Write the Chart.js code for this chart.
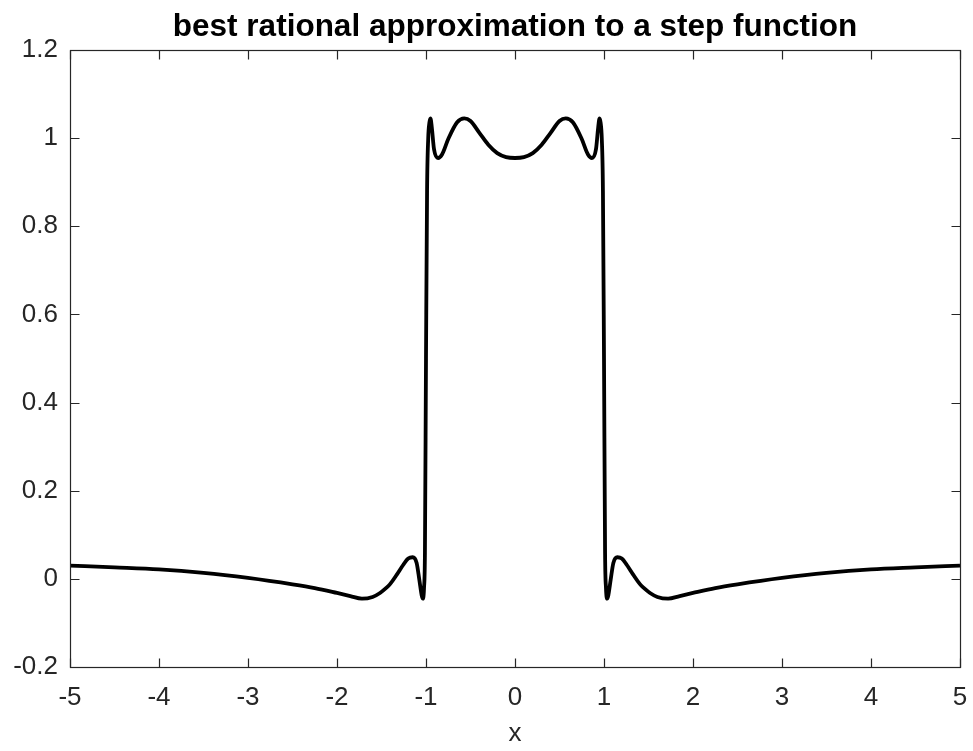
<!DOCTYPE html>
<html>
<head>
<meta charset="utf-8">
<script src="https://cdn.jsdelivr.net/npm/chart.js@4.4.1/dist/chart.umd.min.js"></script>
<style>
  html, body { margin: 0; padding: 0; background: #fff; }
  canvas { display: block; }
</style>
</head>
<body>
<canvas id="step-chart" width="973" height="751"></canvas>
<script>
// values
const xValues = [
  -5, -4.5, -4, -3.5, -3, -2.5, -2.25, -2, -1.85, -1.72, -1.6, -1.517, -1.45, -1.404, -1.33,
  -1.255, -1.2, -1.15, -1.105, -1.075, -1.048, -1.035, -1.022, -1.012, -1.0, -0.988, -0.975,
  -0.962, -0.95, -0.935, -0.91, -0.865, -0.82, -0.75, -0.65, -0.57, -0.5, -0.4, -0.3, -0.2,
  -0.1, 0,
  0.1, 0.2, 0.3, 0.4, 0.5, 0.57, 0.65, 0.75, 0.82, 0.865, 0.91, 0.935, 0.95, 0.962,
  0.975, 0.988, 1.0, 1.012, 1.022, 1.035, 1.048, 1.075, 1.105, 1.15, 1.2, 1.255,
  1.33, 1.404, 1.45, 1.517, 1.6, 1.72, 1.85, 2, 2.25, 2.5, 3, 3.5, 4, 4.5, 5
];
const yValues = [
  0.030, 0.026, 0.0215, 0.0135, 0.002, -0.0125, -0.021, -0.032, -0.039, -0.045, -0.041,
  -0.032, -0.021, -0.012, 0.009, 0.032, 0.046, 0.049, 0.036, -0.002, -0.038, -0.045, -0.020,
  0.060, 0.500, 0.880, 1.000, 1.035, 1.045, 1.025, 0.975, 0.955, 0.963, 0.998, 1.036, 1.045,
  1.039, 1.012, 0.985, 0.966, 0.957, 0.955,
  0.957, 0.966, 0.985, 1.012, 1.039, 1.045, 1.036, 0.998, 0.963, 0.955, 0.975, 1.025, 1.045,
  1.035, 1.000, 0.880, 0.500, 0.060, -0.020, -0.045, -0.038, -0.002, 0.036, 0.049, 0.046,
  0.032, 0.009, -0.012, -0.021, -0.032, -0.041, -0.045, -0.039, -0.032, -0.021, -0.0125,
  0.002, 0.0135, 0.0215, 0.026, 0.030
];
const xTicks = [-5, -4, -3, -2, -1, 0, 1, 2, 3, 4, 5];
const xTickLabels = ['-5', '-4', '-3', '-2', '-1', '0', '1', '2', '3', '4', '5'];
const yTicks = [-0.2, 0, 0.2, 0.4, 0.6, 0.8, 1, 1.2];
const yTickLabels = ['-0.2', '0', '0.2', '0.4', '0.6', '0.8', '1', '1.2'];
const chartTitle = 'best rational approximation to a step function';

const axisColor = '#262626';
const fontFamily = '"Liberation Sans", Arial, Helvetica, sans-serif';

// matlab style box with ticks pointing inwards, title centred over the axes
const boxPlugin = {
  id: 'boxTicks',
  afterDatasetsDraw(chart) {
    const { ctx, chartArea: a, scales } = chart;
    const L = Math.round(a.left) + 0.5, R = Math.round(a.right) + 0.5;
    const T = Math.round(a.top) + 0.5, B = Math.round(a.bottom) + 0.5;
    const len = 9;
    ctx.save();
    ctx.strokeStyle = axisColor;
    ctx.lineWidth = 1.2;
    ctx.strokeRect(L, T, R - L, B - T);
    ctx.beginPath();
    xTicks.forEach(v => {
      const px = Math.round(scales.x.getPixelForValue(v)) + 0.5;
      ctx.moveTo(px, B); ctx.lineTo(px, B - len);
      ctx.moveTo(px, T); ctx.lineTo(px, T + len);
    });
    yTicks.forEach(v => {
      const py = Math.round(scales.y.getPixelForValue(v)) + 0.5;
      ctx.moveTo(L, py); ctx.lineTo(L + len, py);
      ctx.moveTo(R, py); ctx.lineTo(R - len, py);
    });
    ctx.stroke();

    ctx.fillStyle = '#000000';
    ctx.font = 'bold 31.5px ' + fontFamily;
    ctx.textAlign = 'center';
    ctx.textBaseline = 'alphabetic';
    ctx.fillText(chartTitle, (a.left + a.right) / 2, 36);
    ctx.restore();
  }
};

const points = xValues.map((x, i) => ({ x: x, y: yValues[i] }));

new Chart(document.getElementById('step-chart'), {
  type: 'line',
  data: {
    datasets: [{
      data: points,
      borderColor: '#000000',
      borderWidth: 3.8,
      pointRadius: 0,
      fill: false,
      cubicInterpolationMode: 'monotone'
    }]
  },
  options: {
    responsive: false,
    animation: false,
    layout: { padding: { left: 0, right: 13, top: 50, bottom: 0 } },
    plugins: {
      legend: { display: false },
      tooltip: { enabled: false },
      title: { display: false }
    },
    scales: {
      x: {
        type: 'linear',
        min: -5,
        max: 5,
        grid: { display: false, drawTicks: false, tickLength: 0 },
        border: { display: false },
        afterBuildTicks: s => { s.ticks = xTicks.map(v => ({ value: v })); },
        afterFit: s => { s.height = 84; s.paddingLeft = 0; s.paddingRight = 0; },
        ticks: {
          color: axisColor,
          padding: 15,
          maxRotation: 0,
          font: { family: fontFamily, size: 26, lineHeight: 1.2 },
          callback: (v, i) => xTickLabels[i]
        },
        title: {
          display: true,
          text: 'x',
          color: axisColor,
          font: { family: fontFamily, size: 26, lineHeight: 1.2 },
          padding: { top: 0, bottom: 1.4 }
        }
      },
      y: {
        type: 'linear',
        min: -0.2,
        max: 1.2,
        grid: { display: false, drawTicks: false, tickLength: 0 },
        border: { display: false },
        afterBuildTicks: s => { s.ticks = yTicks.map(v => ({ value: v })); },
        afterFit: s => { s.width = 70; s.paddingTop = 0; s.paddingBottom = 0; },
        ticks: {
          color: axisColor,
          padding: 12,
          font: { family: fontFamily, size: 26, lineHeight: 1.2 },
          callback: (v, i) => yTickLabels[i]
        }
      }
    }
  },
  plugins: [boxPlugin]
});
</script>
</body>
</html>
